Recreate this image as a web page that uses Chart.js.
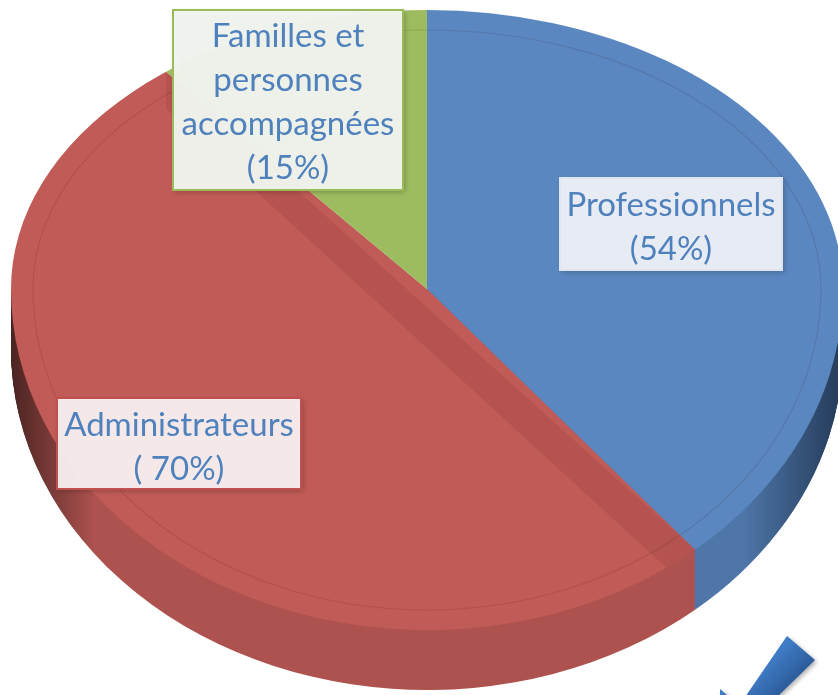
<!DOCTYPE html>
<html>
<head>
<meta charset="utf-8">
<script src="https://cdn.jsdelivr.net/npm/chart.js@4.4.0/dist/chart.umd.min.js"></script>
<style>
  html, body { margin: 0; padding: 0; background: #fff; }
  #wrap { width: 838px; height: 695px; overflow: hidden; }
</style>
</head>
<body>
<div id="wrap"><canvas id="pie" width="838" height="695"></canvas></div>
<script>
// data
var categories = ["Professionnels", "Administrateurs", "Familles et personnes accompagnées"];
var values = [54, 70, 15];
var nameLines = [["Professionnels"], ["Administrateurs"], ["Familles et", "personnes", "accompagnées"]];
var valueLabels = ["(54%)", "( 70%)", "(15%)"];

// look of the 3d pie
var topColors = ["#5a87c0", "#c15b57", "#9dbc5f"];
var sideDark = ["#243a58", "#4a2422", "#4d6030"];
var sideMid = ["#4e76a8", "#ad524e", "#86a34f"];
var boxFill = ["rgba(236,240,247,0.97)", "rgba(247,237,237,0.97)", "rgba(242,245,238,0.97)"];
var boxBorder = ["#dfe6f0", "#c0504d", "#9bbb59"];

// apex of the pie, horizontal radius, back / front radius (fake perspective), side depth
var AX = 427, AY = 289, RX = 416, RYT = 279, RYB = 341, DEPTH = 60;
var W = 838, H = 695;

// label boxes: x, y, w, h, first line centre, line step
var boxes = [
  [560, 178, 222, 92, 205, 44],
  [57, 398, 244, 91, 425, 44],
  [173, 10, 230, 180, 36, 44]
];

function toScreen(chart, ry) {
  var a = chart.getDatasetMeta(0).data[0];
  var ctx = chart.ctx;
  ctx.translate(AX, AY);
  ctx.scale(RX / a.outerRadius, ry / a.outerRadius);
  ctx.translate(-a.x, -a.y);
}

function clipRows(ctx, y0, y1) {
  ctx.beginPath();
  ctx.rect(0, y0, W, y1 - y0);
  ctx.clip();
}

function topShape(ctx, dx, dy) {
  ctx.beginPath();
  ctx.ellipse(AX, AY, RX - dx, RYT - dy, 0, Math.PI, Math.PI * 2);
  ctx.ellipse(AX, AY, RX - dx, RYB - dy, 0, 0, Math.PI);
  ctx.closePath();
}

var pie3d = {
  id: "pie3d",
  beforeDatasetsDraw: function (chart) {
    var ctx = chart.ctx;
    var meta = chart.getDatasetMeta(0);
    var a = meta.data[0];
    var grads = meta.data.map(function (arc, i) {
      var g = ctx.createLinearGradient(a.x - a.outerRadius, 0, a.x + a.outerRadius, 0);
      g.addColorStop(0, sideDark[i]);
      g.addColorStop(0.1, sideMid[i]);
      g.addColorStop(0.5, sideMid[i]);
      g.addColorStop(0.88, sideMid[i]);
      g.addColorStop(1, sideDark[i]);
      return g;
    });
    // side wall, stacked copies of the front half
    for (var d = DEPTH; d > 0; d--) {
      ctx.save();
      clipRows(ctx, AY, H);
      ctx.translate(0, d);
      toScreen(chart, RYB);
      meta.data.forEach(function (arc, i) {
        var o = arc.options;
        arc.options = Object.assign({}, o, { backgroundColor: grads[i], borderWidth: 0 });
        arc.draw(ctx);
        arc.options = o;
      });
      ctx.restore();
    }
    // back half of the top face is drawn by the chart itself
    ctx.save();
    clipRows(ctx, 0, AY);
    toScreen(chart, RYT);
  },
  afterDatasetsDraw: function (chart) {
    var ctx = chart.ctx;
    ctx.restore();
    var meta = chart.getDatasetMeta(0);

    // front half of the top face
    ctx.save();
    clipRows(ctx, AY, H);
    toScreen(chart, RYB);
    meta.data.forEach(function (arc) { arc.draw(ctx); });
    ctx.restore();

    // darker band along the cut of the red slice
    var red = meta.data[1];
    function rim(ang) {
      var ry = Math.sin(ang) > 0 ? RYB : RYT;
      return [AX + Math.cos(ang) * RX, AY + Math.sin(ang) * ry];
    }
    var p1 = rim(red.startAngle), p2 = rim(red.endAngle);
    ctx.save();
    topShape(ctx, 0, 0);
    ctx.clip();
    ctx.beginPath();
    ctx.moveTo(p2[0], p2[1]);
    ctx.lineTo(p1[0], p1[1]);
    ctx.lineTo(p1[0] - 8, p1[1] + 37);
    ctx.lineTo(p2[0], p2[1] + 37);
    ctx.closePath();
    ctx.fillStyle = "rgba(70,15,10,0.09)";
    ctx.fill();
    // thin bevel line near the rim
    topShape(ctx, 22, 20);
    ctx.strokeStyle = "rgba(60,20,20,0.12)";
    ctx.lineWidth = 1.2;
    ctx.stroke();
    ctx.restore();

    // label boxes
    ctx.font = "33px Lato";
    ctx.textAlign = "center";
    ctx.textBaseline = "middle";
    boxes.forEach(function (b, i) {
      ctx.save();
      ctx.shadowColor = "rgba(0,0,0,0.25)";
      ctx.shadowBlur = 5;
      ctx.shadowOffsetX = 2;
      ctx.shadowOffsetY = 2;
      ctx.fillStyle = boxFill[i];
      ctx.fillRect(b[0], b[1], b[2], b[3]);
      ctx.restore();
      ctx.strokeStyle = boxBorder[i];
      ctx.lineWidth = 2;
      ctx.strokeRect(b[0], b[1], b[2], b[3]);
      ctx.fillStyle = "#4f81bd";
      var lines = nameLines[i].concat([valueLabels[i]]);
      lines.forEach(function (t, k) {
        ctx.fillText(t, b[0] + b[2] / 2, b[4] + k * b[5]);
      });
    });

    // blue tick mark in the corner
    ctx.save();
    var g = ctx.createLinearGradient(790, 640, 812, 662);
    g.addColorStop(0, "#3f7cc6");
    g.addColorStop(1, "#2c5c9c");
    ctx.shadowColor = "rgba(0,0,0,0.3)";
    ctx.shadowBlur = 4;
    ctx.shadowOffsetX = 2;
    ctx.shadowOffsetY = 2;
    ctx.fillStyle = g;
    ctx.beginPath();
    ctx.moveTo(787, 636);
    ctx.lineTo(815, 660);
    ctx.lineTo(774, 700);
    ctx.lineTo(743, 700);
    ctx.closePath();
    ctx.fill();
    ctx.beginPath();
    ctx.moveTo(720, 689);
    ctx.lineTo(733, 700);
    ctx.lineTo(720, 700);
    ctx.closePath();
    ctx.fill();
    ctx.restore();
  }
};

new Chart(document.getElementById("pie"), {
  type: "pie",
  data: {
    labels: categories,
    datasets: [{
      data: values,
      backgroundColor: topColors,
      borderWidth: 0,
      clip: false
    }]
  },
  options: {
    responsive: false,
    animation: false,
    devicePixelRatio: 1,
    rotation: 0,
    plugins: {
      legend: { display: false },
      tooltip: { enabled: false }
    }
  },
  plugins: [pie3d]
});
</script>
</body>
</html>
